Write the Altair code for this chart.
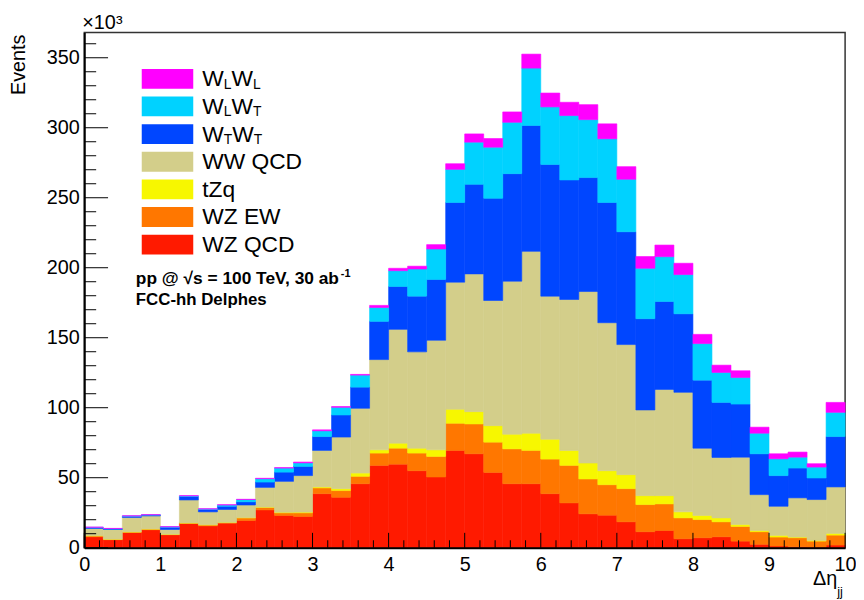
import altair as alt
import pandas as pd

# ---------------- data (thousands of events per bin, 40 bins of width 0.25 in Δη_jj) ----------------
bin_width = 0.25
n_bins = 40

wz_qcd = [7.8, 5.7, 10.9, 12.8, 9.2, 17.3, 15.6, 17.5, 19.4, 27.0, 23.0, 22.3, 38.6, 36.0, 45.7, 58.8, 59.7, 55.0, 50.5, 69.5,
          67.1, 53.8, 45.7, 45.7, 38.6, 32.0, 24.2, 23.2, 18.5, 11.4, 12.3, 6.4, 7.1, 7.8, 4.7, 2.4, 1.2, 0.7, 0.5, 1.9]
wz_ew = [0.7, 0.3, 0.3, 0.5, 0.3, 0.3, 0.7, 0.5, 1.9, 1.7, 1.9, 2.6, 4.1, 4.8, 5.3, 8.8, 11.4, 12.6, 14.7, 19.4,
         21.3, 21.6, 24.9, 23.8, 24.7, 26.8, 24.9, 21.8, 23.7, 19.4, 19.0, 14.9, 13.0, 10.7, 10.5, 9.0, 6.4, 6.4, 4.2, 7.1]
tzq = [0.1, 0.1, 0.1, 0.1, 0.1, 0.1, 0.1, 0.1, 0.2, 0.3, 0.4, 0.5, 0.7, 1.4, 2.3, 2.3, 3.6, 3.5, 4.7, 10.0,
       8.8, 11.8, 10.5, 12.3, 14.2, 10.7, 11.4, 10.0, 10.0, 6.4, 5.9, 4.3, 2.9, 2.8, 1.4, 0.9, 1.2, 0.5, 0.5, 1.2]
ww_qcd = [5.1, 6.9, 10.3, 9.3, 3.4, 16.4, 9.2, 9.2, 9.0, 14.1, 22.1, 26.1, 26.1, 36.8, 46.3, 64.5, 81.3, 68.8, 78.3, 90.8,
          98.4, 89.4, 109.3, 129.9, 102.2, 107.8, 122.5, 105.7, 92.9, 61.2, 75.9, 85.4, 48.1, 43.2, 48.1, 25.6, 20.8, 28.0, 29.2, 33.2]
wtwt = [0.5, 0.4, 0.8, 0.6, 1.6, 2.5, 1.7, 2.3, 2.3, 3.8, 6.6, 6.6, 9.9, 15.8, 15.1, 27.3, 30.6, 39.8, 43.4, 56.9,
        64.0, 73.0, 76.8, 89.9, 94.1, 85.4, 81.4, 85.9, 80.6, 65.2, 62.8, 56.1, 48.6, 39.3, 37.9, 29.2, 21.9, 21.3, 15.4, 36.0]
wlwt = [0.4, 0.3, 0.3, 0.2, 0.3, 0.4, 0.4, 0.9, 1.6, 2.4, 2.9, 2.5, 4.1, 5.5, 8.6, 9.9, 11.3, 19.4, 21.8, 23.7,
        30.1, 36.5, 36.7, 41.0, 41.1, 46.0, 41.4, 45.5, 37.5, 36.0, 32.0, 28.0, 26.1, 21.4, 19.0, 14.7, 12.0, 7.8, 7.8, 17.3]
wlwl = [0.1, 0.1, 0.1, 0.1, 0.1, 0.2, 0.1, 0.2, 0.2, 0.3, 0.3, 0.6, 0.7, 0.5, 0.5, 1.5, 1.7, 2.0, 3.1, 4.0,
        5.9, 6.2, 7.4, 10.0, 9.9, 9.5, 10.7, 10.7, 9.0, 8.4, 8.3, 8.1, 6.6, 5.2, 4.8, 4.3, 3.6, 3.6, 2.4, 7.1]

# stacking order bottom -> top
processes = ["WZ QCD", "WZ EW", "tZq", "WW QCD", "WTWT", "WLWT", "WLWL"]
series = [wz_qcd, wz_ew, tzq, ww_qcd, wtwt, wlwt, wlwl]
colors = ["#ff1a00", "#ff7700", "#f7f700", "#d3ce8a", "#0046ff", "#00d2ff", "#ff00ff"]

x_major = list(range(0, 11))
y_major = list(range(0, 351, 50))

# ---------------- build table ----------------
rows = []
for k, (p, vals) in enumerate(zip(processes, series)):
    for i, v in enumerate(vals):
        rows.append({"process": p, "order": k, "x0": i * bin_width, "x1": (i + 1) * bin_width, "value": v})
df = pd.DataFrame(rows)

FONT = "Liberation Sans"
W, H = 768, 520
xs = alt.Scale(domain=[0, 10], nice=False, zero=False)
ys = alt.Scale(domain=[0, 368], nice=False, zero=True)
cscale = alt.Scale(domain=processes, range=colors)

x_axis = alt.Axis(values=x_major, format="d", ticks=False, grid=False, domain=True,
                  domainColor="black", domainWidth=2, labelFont=FONT, labelFontSize=20,
                  labelColor="black", labelPadding=7, labelFlush=False,
                  labelOverlap=False, title=None, zindex=1)
y_axis = alt.Axis(values=y_major, format="d", ticks=False, grid=False, domain=True, domainColor="black",
                  domainWidth=2, labelFont=FONT, labelFontSize=20, labelColor="black", labelPadding=5,
                  labelFlush=False, labelOverlap=False, title=None, zindex=1)

bars = alt.Chart(df).transform_stack(
    stack="value", groupby=["x0"], as_=["ylo", "yhi"], sort=[alt.SortField("order", order="ascending")]
).mark_rect(strokeWidth=0.6).encode(
    x=alt.X("x0:Q", scale=xs, axis=x_axis),
    x2="x1:Q",
    y=alt.Y("ylo:Q", scale=ys, axis=y_axis),
    y2="yhi:Q",
    color=alt.Color("process:N", scale=cscale, legend=None),
    stroke=alt.Stroke("process:N", scale=cscale, legend=None),
)

# inside ticks (ROOT style)
x_minor = [round(i * 0.2, 2) for i in range(51) if i % 5 != 0]
y_minor = [i * 10 for i in range(37) if i % 5 != 0]

def xticks(vals, length):
    return alt.Chart(pd.DataFrame({"x0": vals})).mark_rule(color="black", strokeWidth=1).encode(
        x=alt.X("x0:Q", scale=xs, axis=x_axis), y=alt.value(H), y2=alt.value(H - length))

def yticks(vals, length):
    return alt.Chart(pd.DataFrame({"ylo": vals})).mark_rule(color="black", strokeWidth=1).encode(
        y=alt.Y("ylo:Q", scale=ys, axis=y_axis), x=alt.value(0), x2=alt.value(length))

one = pd.DataFrame({"k": [0]})

def txt(s, x, y, size, weight="normal", align="left", angle=0, baseline="alphabetic"):
    return alt.Chart(one).mark_text(text=s, font=FONT, fontSize=size, fontWeight=weight, align=align,
                                    baseline=baseline, angle=angle, color="black").encode(
        x=alt.value(x), y=alt.value(y))

# legend (manual, ROOT-like)
legend_order = ["WLWL", "WLWT", "WTWT", "WW QCD", "tZq", "WZ EW", "WZ QCD"]
legend_labels = {
    "WLWL": [("W", 0, 23), ("L", 1, 14), ("W", 0, 23), ("L", 1, 14)],
    "WLWT": [("W", 0, 23), ("L", 1, 14), ("W", 0, 23), ("T", 1, 14)],
    "WTWT": [("W", 0, 23), ("T", 1, 14), ("W", 0, 23), ("T", 1, 14)],
    "WW QCD": [("WW QCD", 0, 23)],
    "tZq": [("tZq", 0, 23)],
    "WZ EW": [("WZ EW", 0, 23)],
    "WZ QCD": [("WZ QCD", 0, 23)],
}
char_w = {"W": 0.944, "L": 0.556, "T": 0.611}
leg_layers = []
for r, name in enumerate(legend_order):
    top = 36.7 + 27.9 * r
    col = colors[processes.index(name)]
    leg_layers.append(alt.Chart(one).mark_rect(color=col).encode(
        x=alt.value(58), x2=alt.value(110), y=alt.value(top), y2=alt.value(top + 20)))
    xpos = 119.0
    base = top + 17.5
    for s, sub, size in legend_labels[name]:
        leg_layers.append(txt(s, xpos, base + (2.5 if sub else 0), size))
        xpos += sum(char_w.get(c, 0.6) for c in s) * size

annotations = [
    txt("pp @  \u221as = 100 TeV, 30 ab", 52, 254, 17.5, weight="bold"),
    txt("-1", 259, 247, 11, weight="bold"),
    txt("FCC-hh Delphes", 52, 275, 17, weight="bold"),
    txt("Events", -60, 2, 20, align="right", angle=270),
    txt("\u00d710\u00b3", -2, -4, 20),
    txt("\u0394\u03b7", 760, 558, 20, align="right"),
    txt("jj", 760, 569, 13),
]

chart = alt.layer(
    bars,
    xticks(x_major, 15), xticks(x_minor, 7.5),
    yticks(y_major, 24), yticks(y_minor, 12),
    *leg_layers, *annotations,
).properties(
    width=W, height=H,
    autosize=alt.AutoSizeParams(type="none"),
    padding={"left": 77, "top": 22, "right": 11, "bottom": 50},
).configure_view(stroke="#333333", strokeWidth=1.5)

chart.save("out.html", embed_options={"renderer": "svg", "actions": False})
